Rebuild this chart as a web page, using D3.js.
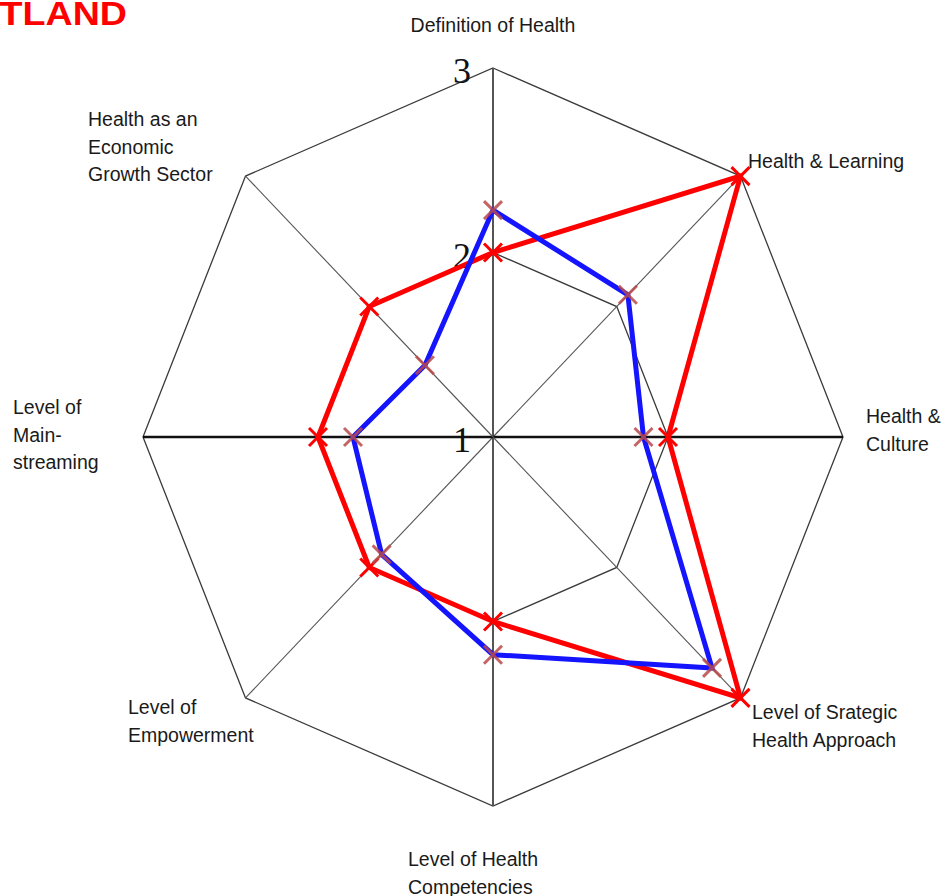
<!DOCTYPE html>
<html>
<head>
<meta charset="utf-8">
<script src="https://cdn.jsdelivr.net/npm/d3@7"></script>
<style>
  html, body { margin: 0; padding: 0; background: #ffffff; }
  svg { display: block; }
</style>
</head>
<body>
<svg id="chart" width="947" height="896"></svg>
<script>
// ---- data ----
const title = "SCOTLAND";
const categories = [
  ["Definition of Health"],
  ["Health & Learning"],
  ["Health &", "Culture"],
  ["Level of Srategic", "Health Approach"],
  ["Level of Health", "Competencies"],
  ["Level of", "Empowerment"],
  ["Level of", "Main-", "streaming"],
  ["Health as an", "Economic", "Growth Sector"]
];
const seriesRed = [2.0, 3.0, 2.0, 3.0, 2.0, 2.0, 2.0, 2.0];
const seriesBlue = [2.23, 2.09, 1.86, 2.77, 2.18, 1.9, 1.8, 1.55];
const tickValues = [1, 2, 3];
const tickLabels = ["1", "2", "3"];

// ---- layout ----
const svg = d3.select("#chart");
const cx = 493, cy = 437;
const ry = 369, rx = 350;
const rScale = d3.scaleLinear().domain([1, 3]).range([0, 1]);
const angle = d3.scaleLinear().domain([0, categories.length]).range([0, 2 * Math.PI]);

function pt(i, v) {
  const f = rScale(v), a = angle(i);
  return [cx + rx * f * Math.sin(a), cy - ry * f * Math.cos(a)];
}

const line = d3.line().curve(d3.curveLinearClosed);

// grid octagons (value 2 and 3)
[2, 3].forEach(v => {
  svg.append("path")
    .attr("d", line(categories.map((c, i) => pt(i, v))))
    .attr("fill", "none")
    .attr("stroke", "#3a3a3a")
    .attr("stroke-width", 1.3);
});

// spokes
categories.forEach((c, i) => {
  const p = pt(i, 3);
  const horiz = (i === 2 || i === 6);
  const vert = (i === 0 || i === 4);
  svg.append("line")
    .attr("x1", cx).attr("y1", cy)
    .attr("x2", p[0]).attr("y2", p[1])
    .attr("stroke", horiz ? "#111" : "#555")
    .attr("stroke-width", horiz ? 2.5 : (vert ? 2 : 1.1));
});

// tick labels
tickValues.forEach((v, k) => {
  const p = pt(0, v);
  svg.append("text")
    .attr("x", 471).attr("y", p[1] + 15)
    .attr("text-anchor", "end")
    .attr("font-family", "'Liberation Serif', 'Times New Roman', serif")
    .attr("font-size", 36)
    .attr("fill", "#111")
    .text(tickLabels[k]);
});

// series lines
function drawSeries(vals, color) {
  svg.append("path")
    .attr("d", line(vals.map((v, i) => pt(i, v))))
    .attr("fill", "none")
    .attr("stroke", color)
    .attr("stroke-width", 5)
    .attr("stroke-linejoin", "miter");
}
drawSeries(seriesRed, "#ff0000");
drawSeries(seriesBlue, "#1414ff");

// markers
function drawMarkers(vals, color, op) {
  const s = 9;
  vals.forEach((v, i) => {
    const [x, y] = pt(i, v);
    svg.append("path")
      .attr("d", `M${x - s},${y - s}L${x + s},${y + s}M${x - s},${y + s}L${x + s},${y - s}`)
      .attr("stroke", color)
      .attr("stroke-opacity", op)
      .attr("stroke-width", 3)
      .attr("fill", "none");
  });
}
drawMarkers(seriesRed, "#ff0000", 1);
drawMarkers(seriesBlue, "#b84a4a", 0.85);

// category labels
const labelPos = [
  { x: 493, y: 32, anchor: "middle" },
  { x: 748, y: 168, anchor: "start" },
  { x: 866, y: 423, anchor: "start" },
  { x: 752, y: 719, anchor: "start" },
  { x: 408, y: 866, anchor: "start" },
  { x: 128, y: 714, anchor: "start" },
  { x: 13, y: 414, anchor: "start" },
  { x: 88, y: 126, anchor: "start" }
];
categories.forEach((lines, i) => {
  const t = svg.append("text")
    .attr("font-family", "Arial, 'Liberation Sans', sans-serif")
    .attr("font-size", 19.5)
    .attr("fill", "#1a1a1a")
    .attr("text-anchor", labelPos[i].anchor);
  lines.forEach((ln, j) => {
    t.append("tspan")
      .attr("x", labelPos[i].x)
      .attr("y", labelPos[i].y + j * 27.5)
      .text(ln);
  });
});

// title (cut off at the left edge, as in the reference)
svg.append("text")
  .attr("transform", "translate(127,25) scale(1.14,1)")
  .attr("x", 0).attr("y", 0)
  .attr("text-anchor", "end")
  .attr("font-family", "Arial, 'Liberation Sans', sans-serif")
  .attr("font-weight", "bold")
  .attr("font-size", 33)
  .attr("fill", "#ff0000")
  .text(title);
</script>
</body>
</html>
